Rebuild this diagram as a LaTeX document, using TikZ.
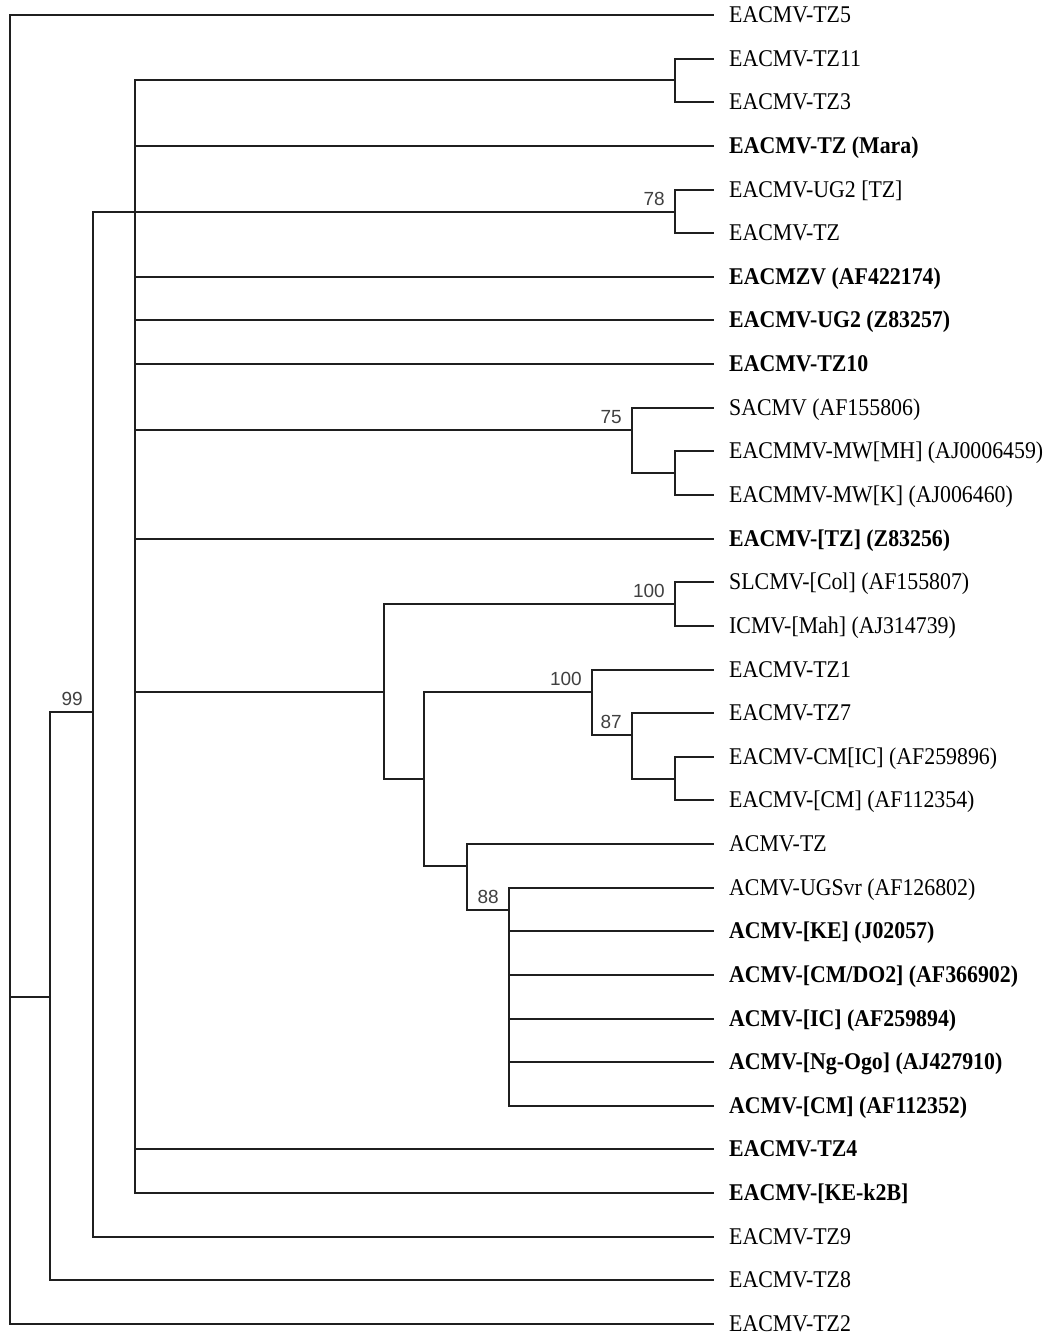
\documentclass[tikz,border=0pt]{standalone}
\usepackage{fontspec}
\setmainfont{Liberation Serif}
\newfontfamily\leaffont[FakeStretch=0.91]{Liberation Serif}
\newfontfamily\bootfont{Liberation Sans}
\begin{document}
\begin{tikzpicture}[x=1pt,y=-1pt,
  br/.style={line width=2pt, draw=black!88},
  leaf/.style={anchor=west, inner sep=0pt, font=\leaffont\fontsize{24}{26}\selectfont, text height=15.9pt, text depth=0pt},
  bleaf/.style={leaf, font=\leaffont\fontsize{24}{26}\selectfont\bfseries},
  boot/.style={anchor=south east, inner sep=0pt, font=\bootfont\fontsize{19}{22}\selectfont, text=black!75, text depth=0pt}
]
\useasboundingbox (0,0) rectangle (1056,1338);
% leaf ends and labels
\foreach \i/\y in {1/15,2/59,3/102,4/146,5/190,6/233,7/277,8/320,9/364,10/408,11/451,12/495,13/539,14/582,15/626,16/670,17/713,18/757,19/800,20/844,21/888,22/931,23/975,24/1019,25/1062,26/1106,27/1149,28/1193,29/1237,30/1280,31/1324}{
  \coordinate (e\i) at (714,\y);
  \coordinate (p\i) at (729,\y);
}
\node[leaf]  (t1)  at (p1)  {EACMV-TZ5};
\node[leaf]  (t2)  at (p2)  {EACMV-TZ11};
\node[leaf]  (t3)  at (p3)  {EACMV-TZ3};
\node[bleaf] (t4)  at (p4)  {EACMV-TZ (Mara)};
\node[leaf]  (t5)  at (p5)  {EACMV-UG2 [TZ]};
\node[leaf]  (t6)  at (p6)  {EACMV-TZ};
\node[bleaf] (t7)  at (p7)  {EACMZV (AF422174)};
\node[bleaf] (t8)  at (p8)  {EACMV-UG2 (Z83257)};
\node[bleaf] (t9)  at (p9)  {EACMV-TZ10};
\node[leaf]  (t10) at (p10) {SACMV (AF155806)};
\node[leaf]  (t11) at (p11) {EACMMV-MW[MH] (AJ0006459)};
\node[leaf]  (t12) at (p12) {EACMMV-MW[K] (AJ006460)};
\node[bleaf] (t13) at (p13) {EACMV-[TZ] (Z83256)};
\node[leaf]  (t14) at (p14) {SLCMV-[Col] (AF155807)};
\node[leaf]  (t15) at (p15) {ICMV-[Mah] (AJ314739)};
\node[leaf]  (t16) at (p16) {EACMV-TZ1};
\node[leaf]  (t17) at (p17) {EACMV-TZ7};
\node[leaf]  (t18) at (p18) {EACMV-CM[IC] (AF259896)};
\node[leaf]  (t19) at (p19) {EACMV-[CM] (AF112354)};
\node[leaf]  (t20) at (p20) {ACMV-TZ};
\node[leaf]  (t21) at (p21) {ACMV-UGSvr (AF126802)};
\node[bleaf] (t22) at (p22) {ACMV-[KE] (J02057)};
\node[bleaf] (t23) at (p23) {ACMV-[CM/DO2] (AF366902)};
\node[bleaf] (t24) at (p24) {ACMV-[IC] (AF259894)};
\node[bleaf] (t25) at (p25) {ACMV-[Ng-Ogo] (AJ427910)};
\node[bleaf] (t26) at (p26) {ACMV-[CM] (AF112352)};
\node[bleaf] (t27) at (p27) {EACMV-TZ4};
\node[bleaf] (t28) at (p28) {EACMV-[KE-k2B]};
\node[leaf]  (t29) at (p29) {EACMV-TZ9};
\node[leaf]  (t30) at (p30) {EACMV-TZ8};
\node[leaf]  (t31) at (p31) {EACMV-TZ2};
% internal nodes
\coordinate (R) at (10,997);
\coordinate (A) at (50,997);
\coordinate (B) at (93,712);
\coordinate (C) at (135,212);
\coordinate (n1) at (675,80);
\coordinate (n78) at (675,212);
\coordinate (n75) at (632,430);
\coordinate (n75b) at (675,473);
\coordinate (nBig) at (384,692);
\coordinate (n100a) at (675,604);
\coordinate (D) at (424,779);
\coordinate (n100b) at (592,692);
\coordinate (F) at (632,735);
\coordinate (G) at (675,779);
\coordinate (E) at (467,866);
\coordinate (H) at (509,910);
% branches
\draw[br] (R) |- (e1);
\draw[br] (R) |- (e31);
\draw[br] (R) -- (A);
\draw[br] (A) |- (B);
\draw[br] (A) |- (e30);
\draw[br] (B) |- (C);
\draw[br] (B) |- (e29);
\draw[br] (C) |- (n1);
\draw[br] (C) |- (e4);
\draw[br] (C) -- (n78);
\draw[br] (C) |- (e7);
\draw[br] (C) |- (e8);
\draw[br] (C) |- (e9);
\draw[br] (C) |- (n75);
\draw[br] (C) |- (e13);
\draw[br] (C) |- (nBig);
\draw[br] (C) |- (e27);
\draw[br] (C) |- (e28);
\draw[br] (n1) |- (e2);
\draw[br] (n1) |- (e3);
\draw[br] (n78) |- (e5);
\draw[br] (n78) |- (e6);
\draw[br] (n75) |- (e10);
\draw[br] (n75) |- (n75b);
\draw[br] (n75b) |- (e11);
\draw[br] (n75b) |- (e12);
\draw[br] (nBig) |- (n100a);
\draw[br] (nBig) |- (D);
\draw[br] (n100a) |- (e14);
\draw[br] (n100a) |- (e15);
\draw[br] (D) |- (n100b);
\draw[br] (D) |- (E);
\draw[br] (n100b) |- (e16);
\draw[br] (n100b) |- (F);
\draw[br] (F) |- (e17);
\draw[br] (F) |- (G);
\draw[br] (G) |- (e18);
\draw[br] (G) |- (e19);
\draw[br] (E) |- (e20);
\draw[br] (E) |- (H);
\draw[br] (H) |- (e21);
\draw[br] (H) |- (e22);
\draw[br] (H) |- (e23);
\draw[br] (H) |- (e24);
\draw[br] (H) |- (e25);
\draw[br] (H) |- (e26);
% bootstrap values
\node[boot] (b99)  at ([shift={(-10,-6)}]B) {99};
\node[boot] (b78)  at ([shift={(-10,-6)}]n78) {78};
\node[boot] (b75)  at ([shift={(-10,-6)}]n75) {75};
\node[boot] (b100a) at ([shift={(-10,-6)}]n100a) {100};
\node[boot] (b100b) at ([shift={(-10,-6)}]n100b) {100};
\node[boot] (b87)  at ([shift={(-10,-6)}]F) {87};
\node[boot] (b88)  at ([shift={(-10,-6)}]H) {88};
\end{tikzpicture}
\end{document}
